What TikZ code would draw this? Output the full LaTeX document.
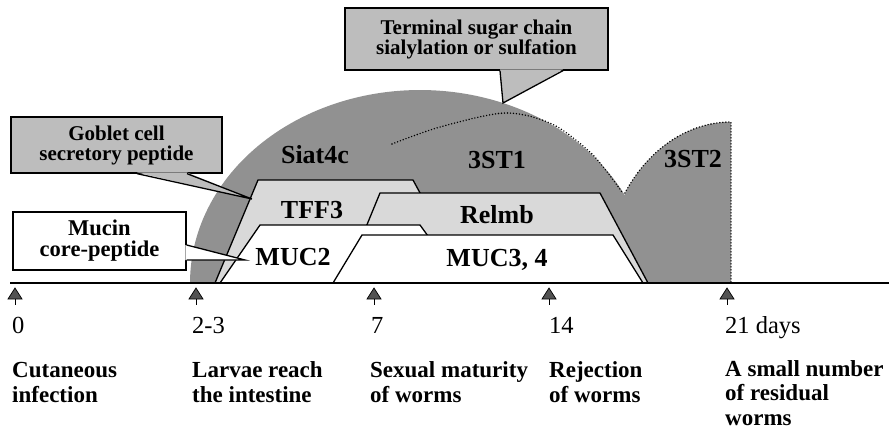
\documentclass[tikz,border=0pt]{standalone}
\usepackage{fontspec}
\setmainfont{Liberation Serif}
\usetikzlibrary{calc}
\definecolor{domegray}{gray}{0.57}
\definecolor{lightfill}{gray}{0.85}
\definecolor{callgray}{gray}{0.74}
\definecolor{tickgray}{gray}{0.32}
\begin{document}
\begin{tikzpicture}[x=1pt,y=-1pt,
  lbl/.style={font=\fontsize{26}{28}\selectfont\bfseries, inner sep=0pt, anchor=base},
  callbox/.style={draw=black, line width=1.3pt, inner sep=0pt, align=center,
    font=\fontsize{21}{20}\selectfont\bfseries},
  calledge/.style={draw=black, line width=1.3pt, line join=miter},
  daylbl/.style={font=\fontsize{23}{24.5}\selectfont\bfseries, align=left, anchor=base west, inner sep=0pt},
  numlbl/.style={font=\fontsize{24.5}{26}\selectfont, anchor=base west, inner sep=0pt},
  trap/.style={draw=black, line width=1.3pt, line join=miter},
  dotline/.style={draw=black, line width=1.6pt, dash pattern=on 0pt off 3pt, line cap=round},
  tickmark/.style={fill=tickgray, draw=black, line width=0.7pt}
]
\useasboundingbox (0,0) rectangle (889,431);

% expression domes
\fill[domegray] plot[domain=0:180,samples=120] ({420+230*cos(\x)},{283-193*sin(\x)}) -- cycle;
\fill[domegray] (731,283) -- plot[domain=90:146,samples=40] ({731+128*cos(\x)},{283-161*sin(\x)}) -- (625,283) -- cycle;
\draw[dotline] plot[smooth] coordinates {(392,144) (440,127) (505,113) (552,124) (592,154) (622,192)};
\draw[dotline] plot[domain=146:90,samples=40] ({731+128*cos(\x)},{283-161*sin(\x)}) -- (731,283);

% trapezoids
\draw[trap, fill=lightfill] (215,283) -- (258,180) -- (413,180) -- (469,283);
\draw[trap, fill=lightfill] (343,283) -- (380,193) -- (600,193) -- (648,283);
\draw[trap, fill=white] (220,283) -- (260,225) -- (420,225) -- (462,283);
\draw[trap, fill=white] (333,283) -- (362,235) -- (613,235) -- (643,283);

% axis
\draw[line width=1.8pt] (10,283) -- (889,283);

% inner labels
\node[lbl] (siat) at (315,163) {Siat4c};
\node[lbl] (st1) at (497,168) {3ST1};
\node[lbl] (st2) at (693,167) {3ST2};
\node[lbl] (tff) at (312,218) {TFF3};
\node[lbl] (relmb) at (497,223) {Relmb};
\node[lbl] (muc2) at (293,265) {MUC2};
\node[lbl] (muc34) at (497,266) {MUC3, 4};

% callouts
\node[callbox, fill=callgray, minimum width=263pt, minimum height=62pt] (term) at (476.5,39) {Terminal sugar chain\\sialylation or sulfation};
\coordinate (termtip) at (503,103);
\fill[callgray] ($(term.south)+(23.5,-1.2)$) -- (termtip) -- ($(term.south)+(86.5,-1.2)$) -- cycle;
\draw[calledge] ($(term.south)+(23.5,0)$) -- (termtip) -- ($(term.south)+(86.5,0)$);

\node[callbox, fill=callgray, minimum width=211pt, minimum height=56pt] (gob) at (116.5,145) {Goblet cell\\secretory peptide};
\coordinate (gobtip) at (252,199);
\fill[callgray] ($(gob.south)+(20.5,-1.2)$) -- (gobtip) -- ($(gob.south)+(70.5,-1.2)$) -- cycle;
\draw[calledge] ($(gob.south)+(20.5,0)$) -- (gobtip) -- ($(gob.south)+(70.5,0)$);

\node[callbox, fill=white, minimum width=173pt, minimum height=58pt,
  font=\fontsize{22.5}{21}\selectfont\bfseries] (muc) at (99.5,241) {Mucin\\core-peptide};
\coordinate (muctip) at (245,260);
\fill[white] ($(muc.east)+(-1.2,4)$) -- (muctip) -- ($(muc.east)+(-1.2,19)$) -- cycle;
\draw[calledge] ($(muc.east)+(0,4)$) -- (muctip) -- ($(muc.east)+(0,19)$);

% time ticks
\foreach \n/\xx in {0/15,1/196,2/374,3/549,4/727}{
  \coordinate (tk\n) at (\xx,283);
  \draw[tickmark] ($(tk\n)+(0,5)$) -- ++(-7,11) -- ++(14,0) -- cycle;
  \draw[line width=1pt] ($(tk\n)+(0,16)$) -- ++(0,6);
}

% day numbers
\node[numlbl] (d0) at (12,333) {0};
\node[numlbl] (d1) at (192,333) {2-3};
\node[numlbl] (d2) at (371,333) {7};
\node[numlbl] (d3) at (549,333) {14};
\node[numlbl] (d4) at (725,333) {21 days};

% event labels (anchored at the baseline of their last line)
\node[daylbl] (e0) at (12,402) {Cutaneous\\infection};
\node[daylbl] (e1) at (192,402) {Larvae reach\\the intestine};
\node[daylbl] (e2) at (370,402) {Sexual maturity\\of worms};
\node[daylbl] (e3) at (549,402) {Rejection\\of worms};
\node[daylbl] (e4) at (725,425) {A small number\\of residual\\worms};
\end{tikzpicture}
\end{document}
